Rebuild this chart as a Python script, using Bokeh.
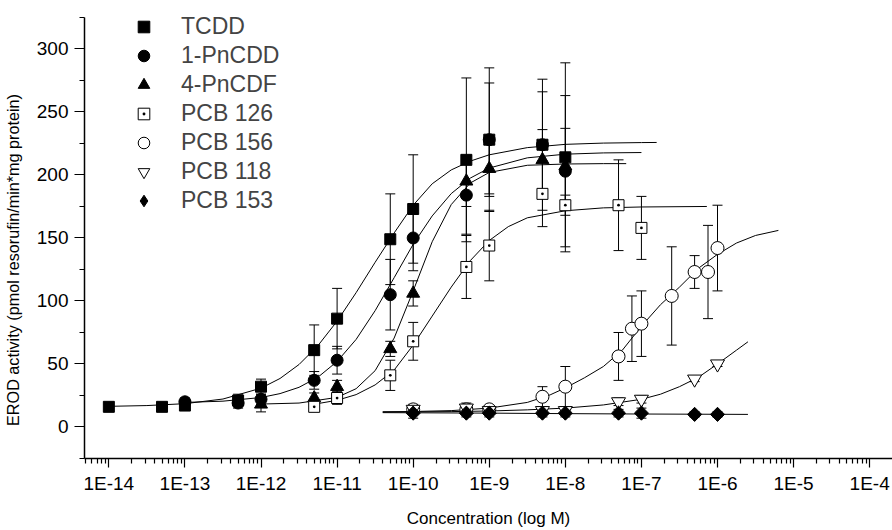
import math
from bokeh.plotting import figure
from bokeh.models import (Range1d, FixedTicker, CustomJSTickFormatter, Whisker, TeeHead,
                          ColumnDataSource, Legend, LegendItem, LinearAxis)
from bokeh.embed import file_html
from bokeh.resources import INLINE

# ---------------- data ----------------
tcdd_conc = [1e-14, 5e-14, 1e-13, 5e-13, 1e-12, 5e-12, 1e-11, 5e-11, 1e-10, 5e-10, 1e-9, 5e-9, 1e-8]
tcdd_mean = [16, 16, 17, 21, 32, 61, 86, 149, 173, 212, 228, 224, 214]
tcdd_err = [2, 2, 3, 5, 6, 20, 24, 36, 43, 65, 45, 52, 75]

pncdd_conc = [1e-13, 5e-13, 1e-12, 5e-12, 1e-11, 5e-11, 1e-10, 5e-10, 1e-9, 5e-9, 1e-8]
pncdd_mean = [20, 19, 22, 37, 53, 105, 150, 184, 228, 224, 203]
pncdd_err = [3, 4, 4, 7, 11, 28, 26, 31, 57, 42, 60]

pncdf_conc = [1e-12, 5e-12, 1e-11, 5e-11, 1e-10, 5e-10, 1e-9, 5e-9, 1e-8]
pncdf_mean = [18, 23, 32, 62, 106, 195, 205, 212, 207]
pncdf_err = [6, 4, 5, 6, 10, 20, 20, 24, 30]

pcb126_conc = [5e-12, 1e-11, 5e-11, 1e-10, 5e-10, 1e-9, 5e-9, 1e-8, 5e-8, 1e-7]
pcb126_mean = [16, 23, 41, 68, 127, 144, 185, 176, 176, 158]
pcb126_err = [3, 5, 12, 15, 25, 28, 26, 8, 36, 25]

pcb156_conc = [1e-10, 5e-10, 1e-9, 5e-9, 1e-8, 5e-8, 7.5e-8, 1e-7, 2.5e-7, 5e-7, 7.5e-7, 1e-6]
pcb156_mean = [14, 14, 14, 24, 32, 56, 78, 82, 104, 123, 123, 142]
pcb156_err = [3, 3, 3, 8, 16, 19, 26, 26, 39, 13, 37, 34]

pcb118_conc = [1e-10, 5e-10, 1e-9, 5e-9, 1e-8, 5e-8, 1e-7, 5e-7, 1e-6]
pcb118_mean = [14, 15, 13, 13, 13, 20, 22, 38, 50]
pcb118_err = [4, 4, 3, 3, 3, 3, 3, 2, 2]

pcb153_conc = [1e-10, 5e-10, 1e-9, 5e-9, 1e-8, 5e-8, 1e-7, 5e-7, 1e-6]
pcb153_mean = [11, 11, 11, 11, 11, 11, 11, 10, 10]
pcb153_err = [4, 3, 3, 3, 3, 3, 4, 2, 2]

# fitted curves (log10 concentration, activity)
tcdd_fit_log = [-14, -13.5, -13, -12.5, -12, -11.75, -11.5, -11.25, -11, -10.75, -10.5, -10.25,
                -10, -9.75, -9.5, -9.25, -9, -8.5, -8, -7.5, -7, -6.8]
tcdd_fit_val = [16.4, 17.0, 18.5, 22.2, 30.8, 38.5, 49.6, 64.7, 84, 106.6, 130.7, 154,
                176, 193, 204, 211, 216, 221.7, 224.3, 225.3, 225.7, 225.8]

pncdd_fit_log = [-13, -12.5, -12, -11.75, -11.5, -11.25, -11, -10.75, -10.5, -10.25, -10,
                 -9.75, -9.5, -9.25, -9, -8.5, -8, -7.5, -7]
pncdd_fit_val = [19.5, 20.5, 23.4, 26.5, 31.5, 39.6, 52, 69.5, 92.3, 118.5, 145,
                 167.5, 185.2, 197.5, 205.5, 213.6, 216.5, 217.5, 217.8]

pncdf_fit_log = [-12, -11.5, -11, -10.75, -10.5, -10.25, -10, -9.75, -9.5, -9.25, -9,
                 -8.5, -8, -7.5, -7.2]
pncdf_fit_val = [18.2, 19.0, 23.5, 30.4, 44.7, 70.6, 108, 147, 176.5, 193.6, 202,
                 207.7, 208.7, 209, 209]

pcb126_fit_log = [-11.3, -11, -10.75, -10.5, -10.25, -10, -9.75, -9.5, -9.25, -9, -8.75,
                  -8.5, -8, -7.5, -7, -6.14]
pcb126_fit_val = [18.1, 21.2, 25.7, 33.4, 45.2, 65, 88, 111, 132, 148, 159,
                  166, 171.6, 173.9, 174.6, 175]

pcb156_fit_log = [-10.4, -10, -9.5, -9, -8.5, -8.2, -8, -7.75, -7.5, -7.25, -7, -6.75,
                  -6.5, -6.25, -6, -5.75, -5.5, -5.2]
pcb156_fit_val = [12, 12.3, 13, 15, 19.5, 25.5, 31, 39, 48, 61, 80, 97,
                  111, 126, 137, 146, 152, 156]

pcb118_fit_log = [-10.4, -10, -9.5, -9, -8.5, -8, -7.5, -7, -6.75, -6.5, -6.25, -6, -5.75, -5.6]
pcb118_fit_val = [12, 12, 12.2, 12.7, 13.6, 15, 17.5, 22, 26, 32, 39.5, 50, 61, 67.6]

pcb153_fit_log = [-10.4, -9, -8, -7, -6, -5.6]
pcb153_fit_val = [11.4, 11.0, 10.6, 10.3, 10.1, 10.0]

series_names = ["TCDD", "1-PnCDD", "4-PnCDF", "PCB 126", "PCB 156", "PCB 118", "PCB 153"]
x_tick_exps = list(range(-14, -3))
y_major = [0, 50, 100, 150, 200, 250, 300]
y_minor = [-25, 25, 75, 125, 175, 225, 275, 325]
y_title = "EROD activity (pmol resorufin/min*mg protein)"
x_title = "Concentration (log M)"

FONT = "Liberation Sans"

# ---------------- figure ----------------
p = figure(width=892, height=530, x_axis_type="log", output_backend="svg",
           toolbar_location=None,
           x_range=Range1d(10 ** -14.32, 10 ** -3.70), y_range=Range1d(-25, 332.9),
           min_border_left=83, min_border_right=0, min_border_top=7, min_border_bottom=69)
p.outline_line_color = None
p.xgrid.visible = False
p.ygrid.visible = False

# x axis
x_major = [10.0 ** e for e in x_tick_exps]
x_minor = [m * 10.0 ** e for e in range(-15, -3) for m in range(2, 10)]
p.xaxis.ticker = FixedTicker(ticks=x_major, minor_ticks=x_minor)
p.xaxis.formatter = CustomJSTickFormatter(code="return '1E' + Math.round(Math.log10(tick));")
p.xaxis.major_tick_out = 9
p.xaxis.major_tick_in = 0
p.xaxis.minor_tick_out = 5
p.xaxis.minor_tick_in = 0
p.xaxis.major_label_text_font = FONT
p.xaxis.major_label_text_font_size = "19px"
p.xaxis.major_label_standoff = 5
p.xaxis.axis_label = x_title
p.xaxis.axis_label_text_font = FONT
p.xaxis.axis_label_text_font_size = "17px"
p.xaxis.axis_label_text_font_style = "normal"
p.xaxis.axis_label_standoff = 12

# y axis (line limited to -25..325 like the reference)
p.yaxis.ticker = FixedTicker(ticks=y_major, minor_ticks=y_minor)
p.yaxis.bounds = (-25, 325)
p.yaxis.major_tick_out = 10
p.yaxis.major_tick_in = 0
p.yaxis.minor_tick_out = 5
p.yaxis.minor_tick_in = 0
p.yaxis.major_label_text_font = FONT
p.yaxis.major_label_text_font_size = "19px"
p.yaxis.major_label_standoff = 6

for ax in (p.xaxis, p.yaxis):
    ax.axis_line_color = "black"
    ax.axis_line_width = 1.5
    ax.major_tick_line_color = "black"
    ax.minor_tick_line_color = "black"
    ax.major_tick_line_width = 1.2
    ax.minor_tick_line_width = 1.2
    ax.major_label_text_color = "black"
    ax.axis_label_text_color = "black"

# y axis title on a bare helper axis; trailing no-break spaces push the visible
# text down so that it starts at the zero line, as in the reference
title_axis = LinearAxis(ticker=FixedTicker(ticks=[]),
                        axis_line_color=None, major_tick_line_color=None,
                        minor_tick_line_color=None, major_label_text_font_size="0px",
                        axis_label=y_title + "\u00a0" * 12, axis_label_text_font=FONT,
                        axis_label_text_font_size="16.2px", axis_label_text_font_style="normal",
                        axis_label_text_color="black", axis_label_standoff=12)
p.add_layout(title_axis, "left")

# ---------------- series ----------------
series = [
    (tcdd_conc, tcdd_mean, tcdd_err, tcdd_fit_log, tcdd_fit_val, "square", 11, "black", 0),
    (pncdd_conc, pncdd_mean, pncdd_err, pncdd_fit_log, pncdd_fit_val, "circle", 12, "black", 0),
    (pncdf_conc, pncdf_mean, pncdf_err, pncdf_fit_log, pncdf_fit_val, "triangle", 13, "black", 0),
    (pcb126_conc, pcb126_mean, pcb126_err, pcb126_fit_log, pcb126_fit_val, "square_dot", 11, "white", 0),
    (pcb156_conc, pcb156_mean, pcb156_err, pcb156_fit_log, pcb156_fit_val, "circle", 13, "white", 0),
    (pcb118_conc, pcb118_mean, pcb118_err, pcb118_fit_log, pcb118_fit_val, "inverted_triangle", 14, "white", 0),
    (pcb153_conc, pcb153_mean, pcb153_err, pcb153_fit_log, pcb153_fit_val, "square", 10, "black", math.pi / 4),
]

# curves first
for conc, mean, err, flog, fval, marker, size, fill, ang in series:
    p.line([10.0 ** v for v in flog], fval, line_color="black", line_width=1)

# error bars
for conc, mean, err, flog, fval, marker, size, fill, ang in series:
    src = ColumnDataSource(dict(x=conc, lo=[m - e for m, e in zip(mean, err)],
                                hi=[m + e for m, e in zip(mean, err)]))
    w = Whisker(source=src, base="x", lower="lo", upper="hi", dimension="height",
                line_color="black", line_width=1,
                lower_head=TeeHead(size=10, line_color="black", line_width=1),
                upper_head=TeeHead(size=10, line_color="black", line_width=1))
    p.add_layout(w)

# markers
renderers = []
for conc, mean, err, flog, fval, marker, size, fill, ang in series:
    r = p.scatter(conc, mean, marker=marker, size=size, angle=ang, fill_color=fill,
                  line_color="black", line_width=1)
    renderers.append(r)

# PCB 153 also as a plain diamond (sits inside the rotated square) so the legend shows a diamond
r153 = p.scatter(pcb153_conc, pcb153_mean, marker="diamond", size=13, fill_color="black",
                 line_color="black", line_width=1)
renderers[-1] = r153

legend = Legend(items=[LegendItem(label=n, renderers=[r]) for n, r in zip(series_names, renderers)],
                location=(45, 243), glyph_width=29, glyph_height=29, label_height=29,
                spacing=0, padding=0, margin=0, border_line_color=None,
                background_fill_alpha=0, label_text_font=FONT,
                label_text_font_size="23px", label_standoff=23)
p.add_layout(legend)

open("out.html", "w").write(file_html(p, INLINE))
